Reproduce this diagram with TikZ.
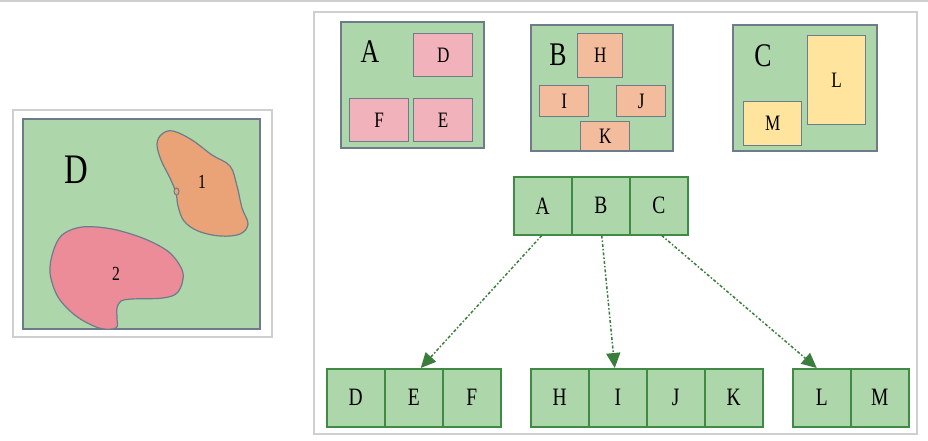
\documentclass[tikz,border=0pt]{standalone}
\usepackage{fontspec}
\setmainfont{Liberation Serif}[FakeStretch=0.78]
\usetikzlibrary{arrows.meta}
\definecolor{grn}{HTML}{AED6AB}
\definecolor{bord}{HTML}{6E7B8B}
\definecolor{pinkb}{HTML}{F1B2BB}
\definecolor{salb}{HTML}{F3BC9D}
\definecolor{yelb}{HTML}{FFE49E}
\definecolor{blobA}{HTML}{EAA277}
\definecolor{blobB}{HTML}{EC8C99}
\definecolor{dgrn}{HTML}{3F8A45}
\definecolor{arr}{HTML}{3B7D3B}
\definecolor{panel}{HTML}{CFCFCF}
\tikzset{
  panelbox/.style={draw=panel,line width=1.5pt,fill=white},
  greenbox/.style={draw=bord,line width=1.4pt,fill=grn},
  inbox/.style={draw=bord,line width=1.4pt,anchor=north west,inner sep=0pt,font=\fontsize{22}{24}\selectfont},
  pinkbox/.style={inbox,fill=pinkb},
  salbox/.style={inbox,fill=salb},
  yelbox/.style={inbox,fill=yelb},
  biglab/.style={font=\fontsize{33}{35}\selectfont},
  cell/.style={draw=dgrn,line width=1.5pt,fill=grn,minimum width=58pt,minimum height=58pt,inner sep=0pt,anchor=north west,font=\fontsize{25}{27}\selectfont},
  link/.style={draw=arr,line width=1.5pt,dash dot,-{Triangle[length=15pt,width=14pt]}},
}
\begin{document}
\begin{tikzpicture}[x=1pt,y=1pt,yscale=-1]
\useasboundingbox (0,0) rectangle (928,440);
\draw[draw=panel,line width=2pt] (0,1) -- (928,1);
% left panel
\draw[panelbox] (13,110) rectangle (272,337);
\draw[greenbox] (23,119) rectangle (260,329);
\draw[draw=bord,line width=1.2pt,fill=blobA] plot[smooth cycle,tension=0.6] coordinates {
 (173,131) (192,140) (212,155) (230,166) (237,186) (242,208) (248,224) (240,234) (220,236) (198,231) (184,221) (178,206) (176,193) (170,178) (161,160) (157,144) (162,134)};
\draw[draw=bord,line width=1pt,fill=blobA] (176.5,191.5) ellipse [x radius=2.5pt,y radius=3.5pt];
\draw[draw=bord,line width=1.2pt,fill=blobB] plot[smooth cycle,tension=0.55] coordinates {
 (53,252) (62,235) (82,227) (112,229) (145,239) (170,253) (183,273) (178,292) (163,298) (132,299) (121,301) (117,308) (117,318) (116,328) (99,328) (76,316) (58,297) (50,273)};
\node[font=\fontsize{42}{44}\selectfont] (Dlab) at (76,170) {D};
\node[font=\fontsize{20}{22}\selectfont] (one) at (202,182) {1};
\node[font=\fontsize{20}{22}\selectfont] (two) at (116,274) {2};
% right panel
\draw[panelbox] (314,12) rectangle (917,434);
% box A
\draw[greenbox] (341,22) rectangle (484,148);
\node[biglab] (Alab) at (370,52) {A};
\node[pinkbox,minimum width=59pt,minimum height=43pt] (Db) at (413,33) {D};
\node[pinkbox,minimum width=59pt,minimum height=43pt] (Fb) at (349,98) {F};
\node[pinkbox,minimum width=59pt,minimum height=43pt] (Eb) at (413,98) {E};
% box B
\draw[greenbox] (531,25) rectangle (673,151);
\node[biglab] (Blab) at (558,55) {B};
\node[salbox,minimum width=45pt,minimum height=44pt] (Hb) at (577,33) {H};
\node[salbox,minimum width=49pt,minimum height=31pt] (Ib) at (539,85) {I};
\node[salbox,minimum width=49pt,minimum height=31pt] (Jb) at (616,85) {J};
\node[salbox,minimum width=49pt,minimum height=29pt] (Kb) at (580,121) {K};
% box C
\draw[greenbox] (733,25) rectangle (877,151);
\node[biglab] (Clab) at (763,56) {C};
\node[yelbox,minimum width=58pt,minimum height=89pt] (Lb) at (807,35) {L};
\node[yelbox,minimum width=58pt,minimum height=44pt] (Mb) at (743,101) {M};
% tree
\node[cell] (A) at (513,176) {A};
\node[cell] (B) at (571,176) {B};
\node[cell] (C) at (629,176) {C};
\node[cell] (D) at (326,368) {D};
\node[cell] (E) at (384,368) {E};
\node[cell] (F) at (442,368) {F};
\node[cell] (H) at (530,368) {H};
\node[cell] (I) at (588,368) {I};
\node[cell] (J) at (646,368) {J};
\node[cell] (K) at (704,368) {K};
\node[cell] (L) at (792,368) {L};
\node[cell] (M) at (850,368) {M};
\draw[link] ([xshift=-1pt]A.south) -- ([xshift=7pt]E.north);
\draw[link] ([xshift=1pt]B.south) -- ([xshift=-3pt]I.north);
\draw[link] ([xshift=3pt]C.south) -- ([xshift=-5pt]L.north);
\end{tikzpicture}
\end{document}
